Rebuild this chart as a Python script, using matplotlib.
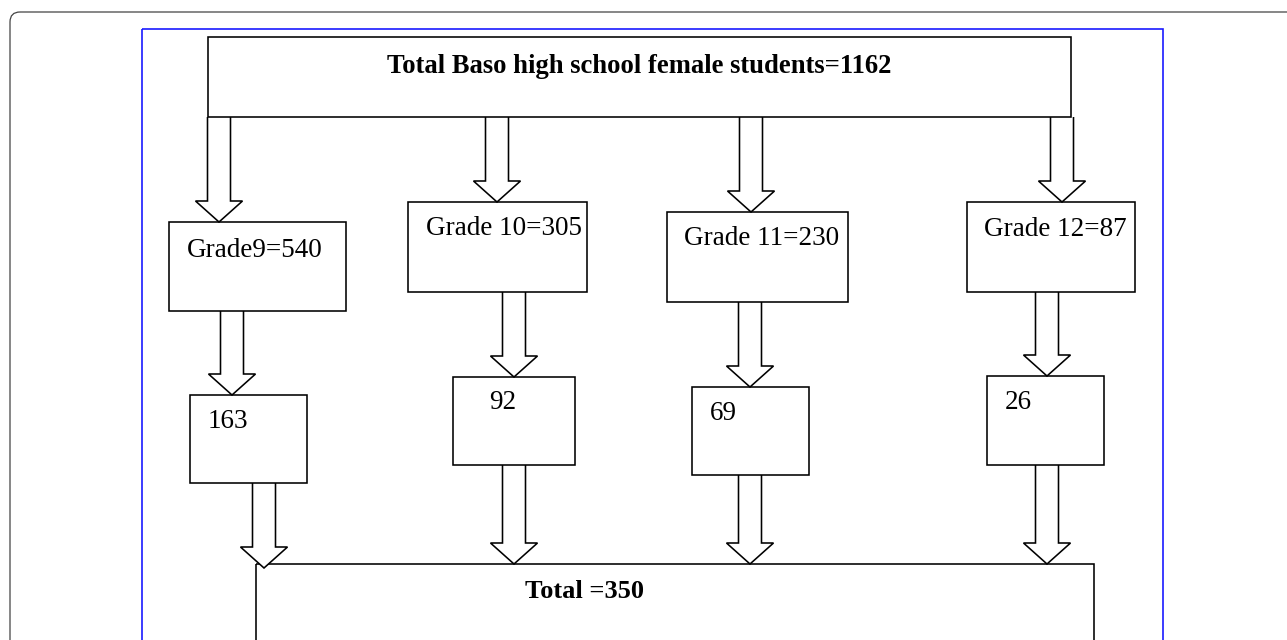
import matplotlib
matplotlib.use("Agg")
import matplotlib.pyplot as plt
from matplotlib.patches import Rectangle, Polygon, FancyBboxPatch

# Data
grades = ["Grade9", "Grade 10", "Grade 11", "Grade 12"]
grade_totals = [540, 305, 230, 87]
sample_sizes = [163, 92, 69, 26]
school_total = 1162
sample_total = 350

# Layout in pixel coordinates (x0, y0, x1, y1)
top_box = (208, 37, 1071, 117)
grade_boxes = [(169, 222, 346, 311), (408, 202, 587, 292),
               (667, 212, 848, 302), (967, 202, 1135, 292)]
sample_boxes = [(190, 395, 307, 483), (453, 377, 575, 465),
                (692, 387, 809, 475), (987, 376, 1104, 465)]
total_box = (256, 564, 1094, 700)

# arrow centre x for: top->grade, grade->sample, sample->total
arrow_top_x = [219, 497, 751, 1062]
arrow_mid_x = [232, 514, 750, 1047]
arrow_bot_x = [264, 514, 750, 1047]

grade_text_pos = [(187, 257), (426, 235), (684, 245), (984, 236)]
sample_text_pos = [(208, 428), (489, 409), (710, 420), (1005, 409)]

FONT = "Liberation Serif"
LW = 1.15


def draw_box(ax, box, z=3):
    x0, y0, x1, y1 = box
    ax.add_patch(Rectangle((x0, y0), x1 - x0, y1 - y0, fill=False,
                           edgecolor="black", lw=LW, zorder=z))


def draw_arrow(ax, cx, y_start, y_tip, shaft=23, head=47, head_len=21):
    neck = y_tip - head_len
    pts = [(cx - shaft / 2, y_start), (cx - shaft / 2, neck),
           (cx - head / 2, neck), (cx, y_tip), (cx + head / 2, neck),
           (cx + shaft / 2, neck), (cx + shaft / 2, y_start)]
    ax.add_patch(Polygon(pts, closed=False, facecolor="white",
                         edgecolor="black", lw=LW, zorder=2))


fig = plt.figure(figsize=(12.87, 6.4), dpi=100)
ax = fig.add_axes([0, 0, 1, 1])
ax.set_xlim(0, 1287)
ax.set_ylim(640, 0)
ax.axis("off")

# outer rounded frame and blue frame
ax.add_patch(FancyBboxPatch((10, 12), 1400, 700,
                            boxstyle="round,pad=0,rounding_size=10",
                            fill=False, edgecolor="#444444", lw=0.9, zorder=0))
ax.add_patch(Rectangle((142, 29), 1163 - 142, 700, fill=False,
                       edgecolor="#1a1aff", lw=1.2, zorder=0))

# boxes
draw_box(ax, top_box)
for b in grade_boxes:
    draw_box(ax, b)
for b in sample_boxes:
    draw_box(ax, b)
draw_box(ax, total_box, z=1)

# arrows
tips_top = [222, 202, 212, 202]
for i in range(4):
    draw_arrow(ax, arrow_top_x[i], top_box[3], grade_boxes[i][1])
    draw_arrow(ax, arrow_mid_x[i], grade_boxes[i][3], sample_boxes[i][1])
    tip = total_box[1] + (4 if i == 0 else 0)
    draw_arrow(ax, arrow_bot_x[i], sample_boxes[i][3], tip)

# text
ax.text((top_box[0] + top_box[2]) / 2, 73,
        f"Total Baso high school female students={school_total}",
        ha="center", va="baseline", fontsize=19.2, fontweight="bold",
        family=FONT, zorder=5)
for i in range(4):
    x, y = grade_text_pos[i]
    ax.text(x, y, f"{grades[i]}={grade_totals[i]}", ha="left",
            va="baseline", fontsize=19.5, family=FONT, zorder=5)
    x, y = sample_text_pos[i]
    ax.text(x, y, str(sample_sizes[i]), ha="left", va="baseline",
            fontsize=19.5, family=FONT, zorder=5)
ax.text(525, 598, f"Total ={sample_total}", ha="left", va="baseline",
        fontsize=19, fontweight="bold", family=FONT, zorder=5)

fig.savefig("out.png", dpi=100)
